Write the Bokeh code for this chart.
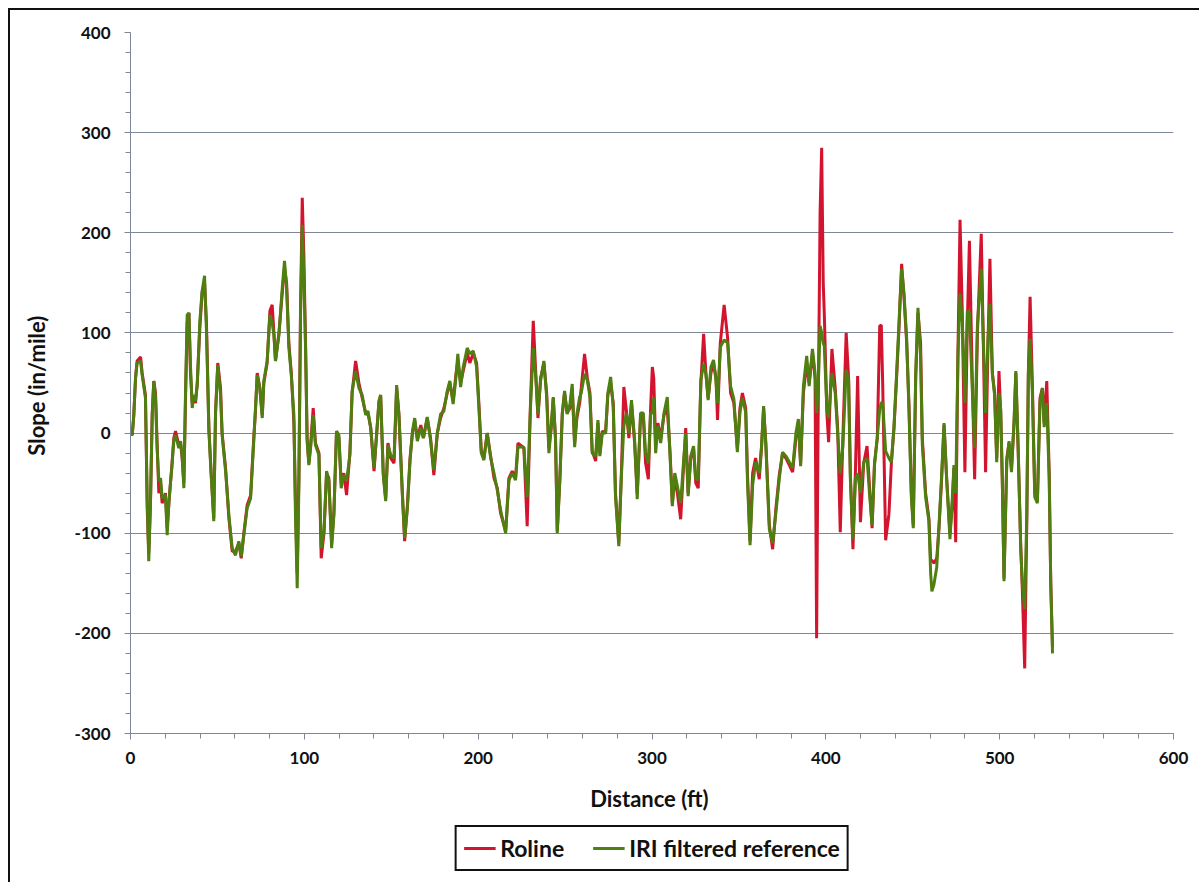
from bokeh.plotting import figure
from bokeh.layouts import column
from bokeh.models import Range1d, FixedTicker, Legend, LegendItem
from bokeh.embed import file_html
from bokeh.resources import INLINE

# distance (ft), IRI filtered reference (green), Roline (red)
distance = [0.0, 1.0, 1.9, 2.9, 3.8, 5.8, 6.7, 8.6, 9.6, 10.5, 11.5, 12.5, 13.4, 14.4, 15.3, 16.3, 17.3, 18.2,
            20.1, 21.1, 22.1, 23.9, 24.9, 25.9, 27.8, 28.8, 29.7, 30.7, 31.6, 32.6, 33.6, 34.5, 35.5, 36.4,
            37.4, 38.4, 39.9, 41.2, 42.6, 43.7, 45.1, 46.4, 47.9, 48.9, 50.2, 51.8, 52.7, 54.7, 56.6, 58.5,
            60.4, 62.3, 63.7, 65.2, 67.1, 69.1, 71.0, 71.9, 72.9, 74.4, 75.8, 76.7, 78.6, 80.2, 81.5, 82.5,
            83.4, 85.4, 87.3, 88.6, 89.8, 91.1, 92.5, 94.0, 94.9, 95.9, 96.9, 97.8, 98.8, 99.7, 100.7, 101.6,
            102.6, 103.6, 105.1, 106.4, 108.4, 109.7, 111.3, 112.8, 114.1, 115.7, 117.0, 118.5, 119.9, 121.2,
            122.7, 124.3, 126.2, 127.5, 129.5, 131.4, 133.3, 135.3, 136.6, 138.2, 140.1, 141.6, 142.9, 143.9,
            145.4, 146.8, 148.1, 149.7, 151.6, 153.1, 154.4, 156.4, 157.7, 159.3, 160.8, 162.2, 163.5, 165.0,
            167.0, 168.5, 170.7, 172.6, 174.5, 176.5, 178.4, 180.3, 182.2, 183.7, 185.6, 187.0, 188.3, 189.9,
            191.4, 193.7, 195.2, 197.2, 199.1, 200.4, 201.8, 203.3, 205.2, 207.1, 209.1, 211.0, 212.9, 215.8,
            217.7, 219.6, 221.5, 222.9, 224.4, 226.3, 228.2, 230.1, 231.7, 233.0, 234.4, 235.9, 237.8, 239.4,
            240.7, 242.0, 243.2, 244.5, 245.5, 247.0, 248.4, 249.7, 251.2, 252.8, 254.1, 255.5, 256.8, 258.4,
            259.3, 261.2, 262.8, 264.3, 265.6, 267.6, 268.9, 270.0, 271.4, 273.3, 274.6, 276.2, 277.7, 279.0,
            280.9, 282.3, 283.8, 285.3, 286.7, 288.2, 290.0, 291.5, 293.4, 295.0, 296.3, 297.9, 299.2, 300.2,
            301.0, 302.1, 303.4, 305.0, 306.9, 308.8, 310.4, 311.7, 313.1, 314.6, 316.5, 318.1, 319.4, 320.8,
            322.3, 323.9, 325.2, 326.6, 328.1, 329.7, 331.0, 332.3, 333.9, 335.4, 336.8, 337.7, 339.3, 341.5,
            343.5, 345.2, 347.1, 349.1, 350.6, 352.0, 353.9, 354.9, 356.4, 357.9, 359.6, 361.7, 363.0, 364.2,
            365.5, 367.5, 369.4, 371.3, 373.2, 375.1, 377.0, 379.0, 380.9, 382.8, 384.2, 385.5, 387.1, 389.0,
            390.4, 392.3, 393.8, 394.7, 395.5, 396.7, 397.6, 398.5, 399.1, 400.6, 401.6, 403.5, 405.4, 406.8,
            408.3, 409.8, 411.7, 413.1, 414.1, 415.6, 417.0, 418.3, 419.9, 421.8, 423.7, 425.2, 426.6, 428.0,
            429.6, 431.0, 431.9, 432.7, 434.4, 436.3, 437.7, 439.2, 440.7, 442.1, 443.6, 445.0, 446.5, 447.8,
            449.2, 450.3, 451.7, 453.0, 454.5, 455.5, 457.4, 459.3, 460.3, 461.0, 462.2, 463.8, 465.1, 466.5,
            468.0, 469.5, 471.4, 472.8, 473.7, 474.7, 476.0, 477.2, 478.5, 480.0, 481.4, 482.6, 484.3, 485.6,
            487.2, 489.4, 490.6, 491.9, 493.3, 494.4, 495.8, 497.1, 498.3, 499.6, 500.6, 501.5, 502.5, 504.1,
            505.4, 506.8, 508.3, 509.3, 510.6, 512.1, 513.1, 514.4, 515.6, 516.5, 517.5, 518.8, 520.2, 521.7,
            523.2, 524.6, 525.6, 527.1, 528.5, 529.4, 530.4]

iri_reference = [0, -2, 18, 55, 70, 72, 58, 35, -65, -128, -68, 18, 52, 35, -15, -48, -45, -65,
                 -62, -102, -68, -32, -8, -2, -15, -8, -22, -55, 35, 118, 120, 68, 25, 38,
                 32, 48, 112, 142, 157, 102, 2, -42, -88, 18, 68, 38, -2, -38, -82, -115,
                 -122, -108, -123, -102, -75, -65, -5, 25, 58, 45, 15, 52, 72, 118, 110, 98,
                 72, 98, 145, 172, 145, 85, 58, 18, -82, -155, -48, 118, 208, 158, 85, -8,
                 -32, -15, 18, -12, -22, -115, -98, -38, -48, -115, -82, 2, -2, -55,
                 -42, -48, -22, 42, 62, 45, 38, 18, 22, 5, -35, -2, 32, 38,
                 -42, -68, -12, -22, -25, 48, 18, -62, -105, -75, -28, 2, 15, -8,
                 5, -5, 16, -7, -37, 0, 19, 22, 42, 52, 29, 52, 79, 46,
                 66, 85, 79, 82, 66, 26, -20, -27, 0, -24, -40, -57, -77, -100,
                 -47, -40, -47, -14, -14, -14, -64, 26, 85, 59, 19, 52, 72, 36,
                 -20, 6, 36, -7, -100, -47, 19, 42, 19, 29, 49, -14, 19, 36,
                 40, 59, 53, 36, -20, -23, 13, -23, 0, 0, 40, 56, 26, -63,
                 -113, -46, 7, 20, 0, 33, -7, -66, 20, 20, -20, -30, 20, 20,
                 35, -20, 7, -10, 20, 36, -23, -73, -40, -53, -70, -30, 0, -63,
                 -23, -13, -46, -46, 53, 69, 59, 33, 66, 73, 53, 30, 86, 93,
                 90, 47, 34, -19, 21, 35, 21, -46, -112, -52, -29, -40, -13, 27,
                 -13, -96, -110, -79, -46, -19, -23, -29, -35, 0, 14, -33, 47, 77,
                 47, 84, 60, 20, 40, 107, 100, 90, 87, 24, 15, 60, 40, 0,
                 -40, -13, 63, 53, -46, -106, -46, -40, -60, -29, -25, -62, -92, -32,
                 -4, 24, 30, 31, -18, -25, -29, 6, 59, 111, 164, 139, 94, 24,
                 -64, -95, 59, 125, 76, -11, -64, -88, -140, -158, -151, -134, -92, -46,
                 10, -46, -106, -64, -32, -60, 76, 139, 111, 30, 122, 120, 41, -15,
                 108, 164, 94, 20, 94, 129, 59, 38, -29, 40, 24, -46, -148, -29,
                 -8, -39, 13, 62, -11, -116, -151, -176, -81, 59, 94, 41, -64, -70,
                 31, 45, 6, 30, -46, -151, -220]

roline = [0, -2, 18, 55, 72, 76, 60, 38, -75, -120, -70, 20, 52, 40, -10, -60, -50, -70,
          -60, -95, -70, -30, -5, 2, -12, -10, -25, -50, 30, 110, 120, 60, 30, 35,
          30, 50, 105, 140, 150, 110, 5, -40, -85, 20, 70, 45, 0, -35, -85, -118,
          -118, -110, -125, -100, -72, -62, -2, 22, 60, 45, 18, 50, 70, 122, 128, 100,
          72, 100, 140, 165, 150, 90, 60, 10, -70, -140, -40, 120, 235, 180, 90, -5,
          -30, -12, 25, -10, -20, -125, -100, -40, -45, -110, -80, 0, -5, -50,
          -40, -62, -20, 40, 72, 50, 35, 20, 20, 5, -38, 0, 30, 38,
          -40, -65, -10, -25, -30, 45, 20, -60, -108, -72, -25, 0, 12, -5,
          8, -5, 15, -5, -42, 0, 15, 25, 40, 50, 32, 55, 72, 50,
          62, 80, 70, 80, 70, 30, -18, -25, 0, -22, -45, -55, -80, -98,
          -45, -38, -45, -10, -12, -15, -93, 30, 112, 65, 15, 55, 70, 40,
          -15, 5, 35, -5, -98, -45, 20, 40, 20, 25, 45, -10, 15, 30,
          45, 79, 55, 40, -18, -28, 10, -20, 2, 0, 38, 50, 30, -60,
          -110, -45, 46, 22, -5, 30, -10, -60, 15, 18, -30, -46, 25, 66,
          55, -10, 10, -5, 18, 25, -20, -70, -45, -60, -86, -35, 5, -60,
          -25, -15, -50, -55, 50, 99, 60, 35, 60, 70, 55, 13, 90, 128,
          95, 40, 30, -15, 25, 40, 25, -40, -108, -40, -25, -46, -15, 25,
          -10, -92, -116, -75, -42, -20, -25, -32, -39, -5, 10, -30, 40, 70,
          50, 80, 55, -205, 0, 220, 285, 150, 120, 20, -9, 84, 45, 5,
          -99, -5, 100, 55, -40, -116, -40, 57, -89, -30, -13, -55, -95, -30,
          -5, 107, 108, 50, -107, -81, -30, 5, 55, 105, 169, 135, 90, 30,
          -60, -92, 55, 120, 90, -5, -60, -85, -127, -127, -130, -125, -95, -50,
          8, -45, -100, -70, -35, -109, 80, 213, 120, -39, 110, 192, 50, -46,
          100, 199, 90, -39, 90, 174, 60, 40, -25, 62, 20, -45, -145, -25,
          -10, -35, 10, 60, -15, -110, -160, -235, -90, 60, 136, 50, -60, -68,
          35, 45, 10, 52, -40, -150, -214]

x_ticks = [0, 100, 200, 300, 400, 500, 600]
y_ticks = [-300, -200, -100, 0, 100, 200, 300, 400]
series_names = ["Roline", "IRI filtered reference"]

RED = "#d3142e"
GREEN = "#4f7f10"
GRID = "#7d879a"
FONT = "Lato"

p = figure(frame_width=1043, frame_height=701, output_backend="svg", toolbar_location=None,
           x_range=Range1d(0, 600), y_range=Range1d(-300, 400),
           min_border_left=120, min_border_right=26, min_border_top=22, min_border_bottom=0)
p.outline_line_color = None
p.background_fill_color = "white"

p.line(distance, roline, line_color=RED, line_width=3)
p.line(distance, iri_reference, line_color=GREEN, line_width=3)

p.xaxis.ticker = FixedTicker(ticks=x_ticks, minor_ticks=list(range(0, 601, 20)))
p.yaxis.ticker = FixedTicker(ticks=y_ticks, minor_ticks=list(range(-300, 401, 20)))
p.xaxis.major_label_overrides = {t: str(t) for t in x_ticks}
p.yaxis.major_label_overrides = {t: str(t) for t in y_ticks}
p.xgrid.grid_line_color = None
p.ygrid.grid_line_color = GRID
p.ygrid.grid_line_width = 1

for ax in (p.xaxis[0], p.yaxis[0]):
    ax.axis_line_color = GRID
    ax.axis_line_width = 1
    ax.major_tick_line_color = GRID
    ax.minor_tick_line_color = GRID
    ax.major_tick_in = 0
    ax.minor_tick_in = 0
    ax.major_tick_out = 6
    ax.minor_tick_out = 5
    ax.major_label_text_font = FONT
    ax.major_label_text_font_style = "bold"
    ax.major_label_text_font_size = "17px"
    ax.major_label_text_color = "#111111"
    ax.axis_label_text_font = FONT
    ax.axis_label_text_font_style = "bold"
    ax.axis_label_text_font_size = "22px"
    ax.axis_label_text_color = "#111111"

p.xaxis.axis_label = "Distance  (ft)"
p.yaxis.axis_label = "Slope  (in/mile)"
p.xaxis.major_label_standoff = 12
p.yaxis.major_label_standoff = 14
p.xaxis.axis_label_standoff = 18
p.yaxis.axis_label_standoff = 22

# legend strip below the chart (its lines sit outside its own ranges, only the legend shows)
lg = figure(frame_width=1043, height=68, output_backend="svg", toolbar_location=None,
            x_axis_type=None, y_axis_type=None, x_range=Range1d(0, 1), y_range=Range1d(0, 1),
            min_border_left=120, min_border_right=26, min_border_top=0, min_border_bottom=0)
lg.outline_line_color = None
lg.grid.visible = False
lr = lg.line([5, 6], [5, 6], line_color=RED, line_width=3)
lgn = lg.line([5, 6], [5, 6], line_color=GREEN, line_width=3)

legend = Legend(items=[LegendItem(label=series_names[0], renderers=[lr]),
                       LegendItem(label=series_names[1], renderers=[lgn])],
                location="center", orientation="horizontal")
legend.border_line_color = "#111111"
legend.border_line_alpha = 1
legend.border_line_width = 2
legend.label_text_font = FONT
legend.label_text_font_style = "bold"
legend.label_text_font_size = "23px"
legend.label_text_color = "#111111"
legend.glyph_width = 32
legend.label_standoff = 5
legend.spacing = 28
legend.padding = 7
legend.margin = 0
legend.background_fill_alpha = 1
lg.add_layout(legend, "center")

layout = column(p, lg, spacing=0)
layout.styles = {"margin-left": "8px", "margin-top": "8px",
                 "border-left": "2px solid #111111", "border-top": "2px solid #111111"}

open("out.html", "w").write(file_html(layout, INLINE))
